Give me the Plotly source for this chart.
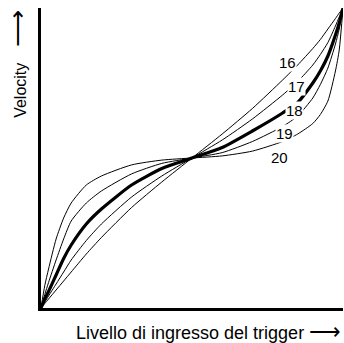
import plotly.graph_objects as go

# trigger level (normalised 0..1)
level = [0, 0.0125, 0.025, 0.05, 0.075, 0.1, 0.15, 0.2, 0.3, 0.4, 0.5,
         0.6, 0.7, 0.8, 0.85, 0.9, 0.925, 0.95, 0.975, 0.9875, 1]

# velocity curves (normalised 0..1)
curve16 = [0, 0.015, 0.03, 0.06, 0.09, 0.12, 0.18, 0.235, 0.335, 0.42, 0.5,
           0.58, 0.665, 0.76, 0.81, 0.865, 0.895, 0.93, 0.965, 0.983, 1]
curve17 = [0, 0.02, 0.04, 0.08, 0.12, 0.16, 0.225, 0.28, 0.37, 0.44, 0.5,
           0.56, 0.63, 0.71, 0.755, 0.81, 0.845, 0.885, 0.94, 0.97, 1]
curve18 = [0, 0.03, 0.055, 0.11, 0.165, 0.21, 0.28, 0.33, 0.41, 0.465, 0.5,
           0.535, 0.59, 0.65, 0.685, 0.75, 0.79, 0.84, 0.91, 0.95, 1]
curve19 = [0, 0.045, 0.085, 0.16, 0.23, 0.29, 0.35, 0.39, 0.447, 0.482, 0.5,
           0.518, 0.555, 0.605, 0.64, 0.70, 0.745, 0.80, 0.88, 0.93, 1]
curve20 = [0, 0.075, 0.13, 0.23, 0.30, 0.35, 0.41, 0.44, 0.477, 0.493, 0.5,
           0.507, 0.523, 0.555, 0.58, 0.615, 0.645, 0.69, 0.79, 0.86, 1]

curve_names = ['16', '17', '18', '19', '20']
label_x = [0.817, 0.847, 0.84, 0.807, 0.79]
label_y = [0.817, 0.737, 0.66, 0.583, 0.503]

font = 'Liberation Sans, Arial, sans-serif'

fig = go.Figure()
for name, ys in zip(curve_names, [curve16, curve17, curve18, curve19, curve20]):
    fig.add_trace(go.Scatter(x=level, y=ys, mode='lines', name=name, hoverinfo='skip',
                             line=dict(color='black', width=3.2 if name == '18' else 1, shape='spline', smoothing=0.6)))

# curve numbers, white box hides the line underneath
for name, lx, ly in zip(curve_names, label_x, label_y):
    fig.add_annotation(x=lx, y=ly, text=name, showarrow=False, bgcolor='white', borderpad=0,
                       font=dict(family=font, size=15, color='black'))

fig.add_annotation(xref='paper', yref='paper', x=1.0, y=-0.03, xanchor='right', yanchor='top',
                   text='Livello di ingresso del trigger <span style="font-size:22px">\u27f6</span>',
                   showarrow=False, font=dict(family=font, size=18, color='black'))
fig.add_annotation(xref='paper', yref='paper', x=-0.08, y=1.0, xanchor='center', yanchor='top',
                   text='Velocity\u2002\u2002<span style="font-size:26px">\u27f6</span>', textangle=-90,
                   showarrow=False, font=dict(family=font, size=16, color='black'))

fig.update_layout(width=344, height=343, margin=dict(l=41, r=1, t=8, b=35),
                  plot_bgcolor='white', paper_bgcolor='white', showlegend=False)
fig.update_xaxes(range=[0, 1], showline=True, linecolor='black', linewidth=2.5,
                 showgrid=False, zeroline=False, showticklabels=False, ticks='')
fig.update_yaxes(range=[0, 1], showline=True, linecolor='black', linewidth=2.5,
                 showgrid=False, zeroline=False, showticklabels=False, ticks='')

fig.write_html('out.html', config={'displayModeBar': False},
               post_script="document.body.style.margin='0px';")
